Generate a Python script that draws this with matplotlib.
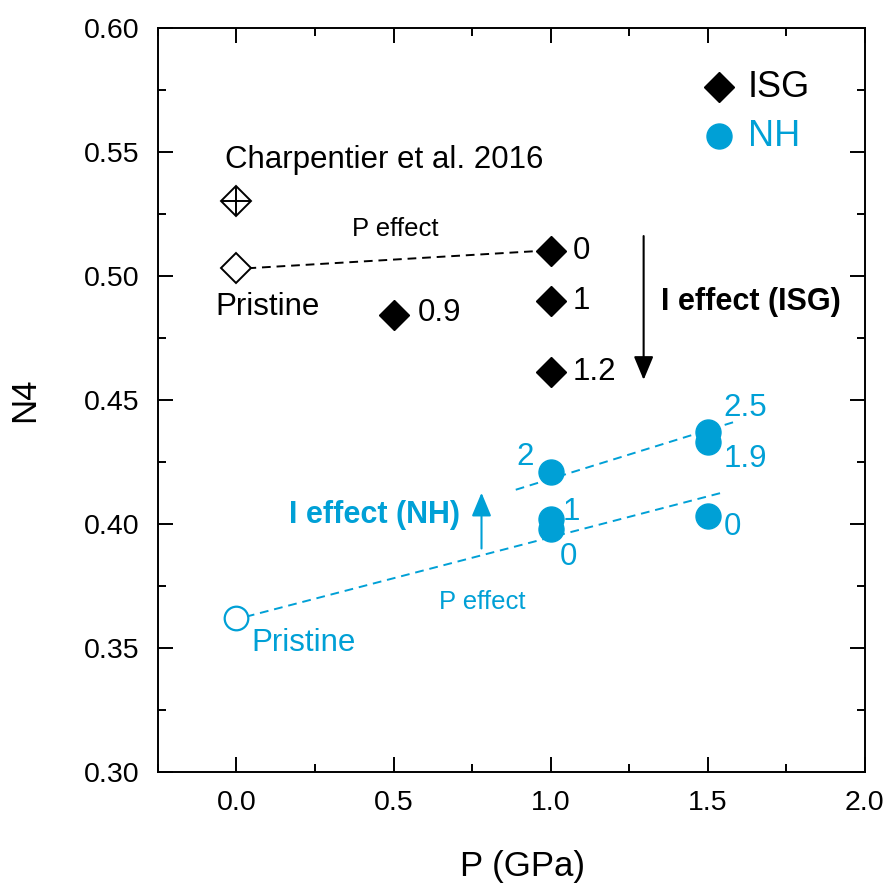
import matplotlib.pyplot as plt

plt.rcParams["font.family"] = ["Liberation Sans", "DejaVu Sans"]

BLUE = "#00a0d6"

# ISG (black diamonds)
isg_p = [0.5, 1.0, 1.0, 1.0]
isg_n4 = [0.484, 0.510, 0.490, 0.461]
isg_lab = ["0.9", "0", "1", "1.2"]
isg_pristine = (0.0, 0.503)
charpentier = (0.0, 0.530)

# NH (blue circles)
nh_p = [1.0, 1.0, 1.0, 1.5, 1.5, 1.5]
nh_n4 = [0.421, 0.402, 0.398, 0.437, 0.433, 0.403]
nh_lab = ["2", "1", "0", "2.5", "1.9", "0"]
nh_pristine = (0.0, 0.362)

# label anchor positions (data coords)
isg_lab_xy = [(0.576, 0.4848), (1.07, 0.510), (1.07, 0.490), (1.07, 0.461)]
nh_lab_xy = [(0.948, 0.427), (1.038, 0.4048), (1.03, 0.3867),
             (1.55, 0.4468), (1.55, 0.4262), (1.552, 0.3988)]
nh_lab_ha = ["right", "left", "left", "left", "left", "left"]

MS_D = 15.3
MS_O = 18

fig = plt.figure(figsize=(8.87, 8.86), dpi=100)
ax = fig.add_axes([0.178, 0.129, 0.797, 0.8397])

ax.set_xlim(-0.25, 2.0)
ax.set_ylim(0.30, 0.60)

# dashed trend lines
ax.plot([0.035, 0.965], [isg_pristine[1], 0.510], color="black", lw=1.4, dashes=(4.5, 3))
ax.plot([0.03, 1.557], [0.3625, 0.4129], color=BLUE, lw=1.4, dashes=(4.5, 3))
ax.plot([0.889, 1.596], [0.4137, 0.4415], color=BLUE, lw=1.4, dashes=(4.5, 3))

# markers
ax.plot(isg_p, isg_n4, "D", color="black", ms=MS_D, ls="none")
ax.plot(*isg_pristine, "D", mfc="white", mec="black", mew=1.4, ms=MS_D)
ax.plot(*charpentier, "D", mfc="white", mec="black", mew=1.4, ms=MS_D)
ax.plot(*charpentier, "+", color="black", mew=1.4, ms=MS_D * 1.414)
ax.plot(nh_p, nh_n4, "o", color=BLUE, ms=MS_O, ls="none")
ax.plot(*nh_pristine, "o", mfc="white", mec=BLUE, mew=1.6, ms=17)

# point labels
fs = 22.5
for (x, y), t in zip(isg_lab_xy, isg_lab):
    ax.text(x, y, t, fontsize=fs, va="center", ha="left")
for (x, y), t, ha in zip(nh_lab_xy, nh_lab, nh_lab_ha):
    ax.text(x, y, t, fontsize=fs, va="center", ha=ha, color=BLUE)

ax.text(-0.067, 0.4875, "Pristine", fontsize=fs, va="center", ha="left")
ax.text(0.047, 0.352, "Pristine", fontsize=fs, va="center", ha="left", color=BLUE)
ax.text(-0.035, 0.5468, "Charpentier et al. 2016", fontsize=fs, va="center", ha="left")
ax.text(0.506, 0.519, "P effect", fontsize=18.5, va="center", ha="center")
ax.text(0.783, 0.3686, "P effect", fontsize=18.5, va="center", ha="center", color=BLUE)
ax.text(1.35, 0.4895, "I effect (ISG)", fontsize=22, fontweight="bold", va="center", ha="left")
ax.text(0.713, 0.4036, "I effect (NH)", fontsize=22, fontweight="bold", va="center",
        ha="right", color=BLUE)

# effect arrows
arrow = "-|>,head_length=0.72,head_width=0.3"
ax.annotate("", xy=(1.296, 0.458), xytext=(1.296, 0.516),
            arrowprops=dict(arrowstyle=arrow, color="black", lw=1.5, mutation_scale=20,
                            shrinkA=0, shrinkB=0))
ax.annotate("", xy=(0.78, 0.4125), xytext=(0.78, 0.390),
            arrowprops=dict(arrowstyle=arrow, color=BLUE, lw=1.5, mutation_scale=20,
                            shrinkA=0, shrinkB=0))

# legend (drawn manually like the original)
ax.plot(1.535, 0.5762, "D", color="black", ms=MS_D)
ax.text(1.627, 0.5758, "ISG", fontsize=26, va="center", ha="left")
ax.plot(1.535, 0.5565, "o", color=BLUE, ms=MS_O)
ax.text(1.627, 0.5560, "NH", fontsize=26, va="center", ha="left", color=BLUE)

ax.set_xticks([0.0, 0.5, 1.0, 1.5, 2.0])
ax.set_xticks([-0.25, 0.25, 0.75, 1.25, 1.75], minor=True)
ax.set_yticks([0.30, 0.35, 0.40, 0.45, 0.50, 0.55, 0.60])
ax.set_yticks([0.325, 0.375, 0.425, 0.475, 0.525, 0.575], minor=True)
ax.xaxis.set_major_formatter(plt.FormatStrFormatter("%.1f"))
ax.yaxis.set_major_formatter(plt.FormatStrFormatter("%.2f"))
ax.tick_params(which="both", direction="in", top=True, right=True, labelsize=20.5, width=1.4)
ax.tick_params(which="major", length=11, pad=13)
ax.tick_params(which="minor", length=6)
for s in ax.spines.values():
    s.set_linewidth(1.4)

ax.set_xlabel("P (GPa)", fontsize=25, labelpad=25, x=0.516)
ax.set_ylabel("N4", fontsize=25, labelpad=31)

fig.savefig("out.png", dpi=100)
